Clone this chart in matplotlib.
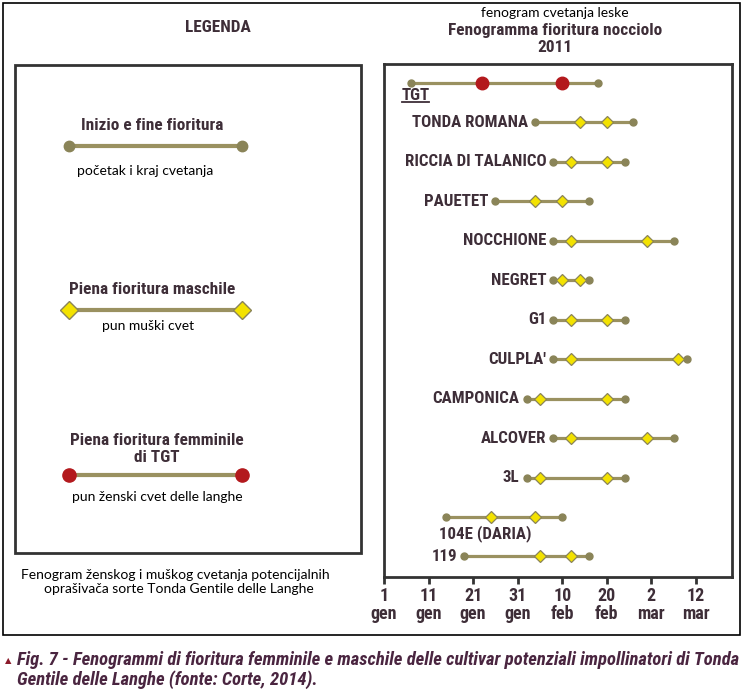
import matplotlib
matplotlib.use("Agg")
import matplotlib.pyplot as plt
from matplotlib import font_manager as fm
from matplotlib.lines import Line2D
from matplotlib.patches import Rectangle

# ---------------- data (day of year: 1 = 1 gen) ----------------
tgt_label = "TGT"
tgt_start, tgt_fem1, tgt_fem2, tgt_end = 7, 23, 41, 49

cultivars = ["TONDA ROMANA", "RICCIA DI TALANICO", "PAUETET", "NOCCHIONE", "NEGRET",
             "G1", "CULPLA'", "CAMPONICA", "ALCOVER", "3L", "104E (DARIA)", "119"]
flower_start = [35, 39, 26, 39, 39, 39, 39, 33, 39, 33, 15, 19]
male_full_1 = [45, 43, 35, 43, 41, 43, 43, 36, 43, 36, 25, 36]
male_full_2 = [51, 51, 41, 60, 45, 51, 67, 51, 60, 51, 35, 43]
flower_end = [57, 55, 47, 66, 47, 55, 69, 55, 66, 55, 41, 47]

tick_days = [1, 11, 21, 31, 41, 51, 61, 71]
tick_labels = ["1\ngen", "11\ngen", "21\ngen", "31\ngen", "10\nfeb", "20\nfeb", "2\nmar", "12\nmar"]

# ---------------- fonts ----------------
entries = fm.fontManager.ttflist
names = {f.name for f in entries}
COND = None
for cand in ["Liberation Sans Narrow", "Roboto Condensed", "Open Sans Condensed",
             "Noto Sans Condensed", "DejaVu Sans Condensed", "Arial Narrow"]:
    if cand in names:
        COND = cand
        break
if COND is None:
    for f in entries:
        if ("Condensed" in f.name or "Narrow" in f.name) and "CJK" not in f.name:
            COND = f.name
            break
STRETCH = "normal"
SCALE = 1.0
if COND is None:
    COND = "Liberation Sans"
    SCALE = 0.87
PLAIN = "Lato" if "Lato" in names else "Open Sans"

TXT = "#3e2e38"
OLIVE = "#9a9160"
OLIVE_DK = "#8a8458"
YELLOW = "#f3e200"
RED = "#b3191d"

W, H = 743, 692
fig = plt.figure(figsize=(W / 100, H / 100), dpi=100)


def fx(x):
    return x / W


def fy(y):
    return 1 - y / H


def ctext(x, y, s, size=12.4, **kw):
    return fig.text(fx(x), fy(y), s, fontfamily=COND, fontweight="bold",
                    fontsize=size * SCALE, color=TXT, ha="center", va="center", **kw)


def ptext(x, y, s, **kw):
    return fig.text(fx(x), fy(y), s, fontfamily=PLAIN, fontsize=10, color="black",
                    ha="center", va="center", **kw)


# outer frame
fig.add_artist(Rectangle((fx(3), fy(635)), fx(737), 632 / H, transform=fig.transFigure,
                         fill=False, edgecolor="black", linewidth=1.2))
# legend box
fig.add_artist(Rectangle((fx(15), fy(553)), fx(346), (553 - 65) / H, transform=fig.transFigure,
                         fill=False, edgecolor="#333333", linewidth=2.0))

# ---------------- main axes ----------------
ax = fig.add_axes([fx(384), fy(577), fx(731.5 - 384), (577 - 64) / H])
ax.set_xlim(1, 79)
ax.set_ylim(12.52, -0.48)
for s in ax.spines.values():
    s.set_linewidth(2.0)
    s.set_color("#333333")
ax.set_yticks([])
ax.set_xticks(tick_days)
ax.set_xticklabels(tick_labels, fontfamily=COND, fontweight="bold",
                   fontsize=13 * SCALE, color=TXT, linespacing=1.0)
ax.tick_params(axis="x", direction="out", length=5, width=2, color="#333333", pad=2)

LBL = 12.2 * SCALE
LW = 2.3
# TGT row
ax.plot([tgt_start, tgt_end], [0, 0], color=OLIVE, lw=LW, zorder=1)
ax.plot([tgt_start, tgt_end], [0, 0], "o", color=OLIVE_DK, ms=5, zorder=2, lw=0)
ax.plot([tgt_fem1, tgt_fem2], [0, 0], "o", color=RED, ms=9, zorder=3, lw=0)
ax.text(5.0, 0.31, tgt_label, fontfamily=COND, fontweight="bold",
        fontsize=LBL, color=TXT, ha="left", va="center")
ax.plot([5.0, 11.0], [0.49, 0.49], color=TXT, lw=1.3)

for i, name in enumerate(cultivars):
    y = i + 1
    ax.plot([flower_start[i], flower_end[i]], [y, y], color=OLIVE, lw=LW, zorder=1)
    ax.plot([flower_start[i], flower_end[i]], [y, y], "o", color=OLIVE_DK, ms=5, lw=0, zorder=2)
    ax.plot([male_full_1[i], male_full_2[i]], [y, y], "D", color=YELLOW, mec=OLIVE_DK,
            mew=0.9, ms=6, lw=0, zorder=3)
    if name.startswith("104E"):
        ax.text(13.3, y + 0.42, name, fontfamily=COND, fontweight="bold",
                fontsize=LBL, color=TXT, ha="left", va="center")
    else:
        ax.text(flower_start[i] - 1.6, y, name, fontfamily=COND,
                fontweight="bold", fontsize=LBL, color=TXT, ha="right", va="center")

# ---------------- titles ----------------
ptext(555, 13, "fenogram cvetanja leske")
ctext(555, 30, "Fenogramma fioritura nocciolo")
ctext(555, 47, "2011")
ctext(218, 28, "LEGENDA")


# ---------------- legend items ----------------
def leg_line(y, marker, mcolor, ms, mec=None):
    fig.add_artist(Line2D([fx(69), fx(242)], [fy(y), fy(y)], transform=fig.transFigure,
                          color=OLIVE, lw=3.0, zorder=1))
    fig.add_artist(Line2D([fx(69), fx(242)], [fy(y), fy(y)], transform=fig.transFigure,
                          lw=0, marker=marker, color=mcolor, ms=ms,
                          mec=mec if mec else mcolor, mew=1.0, zorder=2))


ctext(152, 126, "Inizio e fine fioritura")
leg_line(146, "o", OLIVE_DK, 7.5)
ptext(145, 171, "početak i kraj cvetanja")

ctext(152, 290, "Piena fioritura maschile")
leg_line(310, "D", YELLOW, 9, mec=OLIVE_DK)
ptext(148, 326, "pun muški cvet")

ctext(157, 449, "Piena fioritura femminile\ndi TGT", linespacing=1.1)
leg_line(475, "o", RED, 9.5)
ptext(157, 497, "pun ženski cvet delle langhe")

ptext(175, 582, "Fenogram ženskog i muškog cvetanja potencijalnih\n  oprašivača sorte Tonda Gentile delle Langhe",
      linespacing=1.25)

# ---------------- caption ----------------
fig.text(fx(5), fy(661), "▲", fontfamily="DejaVu Sans", fontsize=6, color="#8b1a2a",
         ha="left", va="center")
fig.text(fx(17), fy(670),
         "Fig. 7 - Fenogrammi di fioritura femminile e maschile delle cultivar potenziali impollinatori di Tonda\nGentile delle Langhe (fonte: Corte, 2014).",
         fontfamily=COND, fontstyle="italic", fontweight="bold",
         fontsize=13.4 * SCALE, color="#4a2540", ha="left", va="center", linespacing=1.05)

fig.savefig("out.png", dpi=100)
